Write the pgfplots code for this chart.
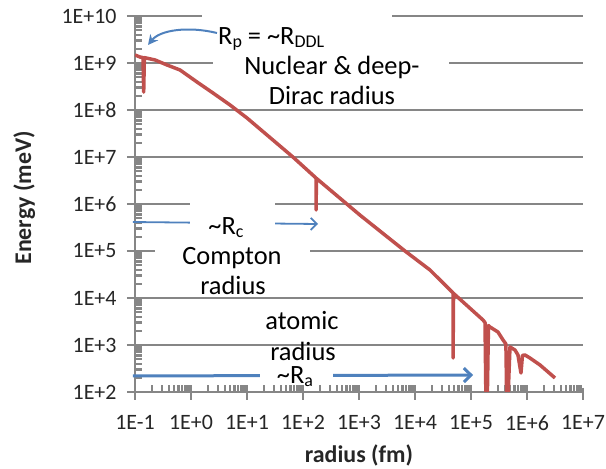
\documentclass[border=0pt]{standalone}
\usepackage{fontspec}
\setmainfont{Carlito}
\usepackage{pgfplots}
\pgfplotsset{compat=1.18}
\usetikzlibrary{arrows.meta}
\definecolor{gridgray}{RGB}{134,134,134}
\definecolor{exred}{RGB}{192,80,77}
\definecolor{exblue}{RGB}{79,129,189}
\newcommand\sub[1]{\raisebox{-0.1em}{\fontsize{18}{18}\selectfont #1}}
\tikzset{ann/.style={font=\fontsize{26.5}{30}\selectfont, inner sep=0pt, anchor=base, text=black}}
\begin{document}
\begin{tikzpicture}
\begin{axis}[
  name=ax,
  scale only axis, width=448bp, height=376bp,
  xmode=log, ymode=log,
  xmin=0.1, xmax=1e7, ymin=1e2, ymax=1e10,
  clip mode=individual,
  axis x line*=bottom, axis y line*=left,
  axis line style={gridgray, line width=1.8bp},
  xtick={1e-1,1e0,1e1,1e2,1e3,1e4,1e5,1e6,1e7},
  xticklabels={1E-1,1E+0,1E+1,1E+2,1E+3,1E+4,1E+5,1E+6,1E+7},
  ytick={1e2,1e4,1e5,1e6,1e7,1e9,1e10},
  yticklabels={1E+2,1E+4,1E+5,1E+6,1E+7,1E+9,1E+10},
  minor ytick={2e2,3e2,4e2,5e2,6e2,7e2,8e2,9e2,
               2e3,3e3,4e3,5e3,6e3,7e3,8e3,9e3,
               2e4,3e4,4e4,5e4,6e4,7e4,8e4,9e4,
               2e5,3e5,4e5,5e5,6e5,7e5,8e5,9e5,
               2e6,3e6,4e6,5e6,6e6,7e6,8e6,9e6,
               2e7,3e7,4e7,5e7,6e7,7e7,8e7,9e7,
               2e8,3e8,4e8,5e8,6e8,7e8,8e8,9e8,
               2e9,3e9,4e9,5e9,6e9,7e9,8e9,9e9},
  extra y ticks={1e3,1e8},
  extra y tick labels={1E+3,1E+8},
  extra y tick style={major grid style={gridgray, line width=1.1bp}},
  ymajorgrids,
  major grid style={gridgray, line width=2bp},
  tick align=outside,
  tick style={gridgray, line width=2bp},
  minor tick style={gridgray, line width=2.2bp},
  major tick length=8bp, minor tick length=-7bp,
  tick label style={font=\fontsize{22}{26}\selectfont, text=black!85},
  xticklabel style={yshift=-12bp},
  yticklabel style={xshift=-7bp},
  xlabel={radius (fm)},
  ylabel={Energy (meV)},
  label style={font=\fontsize{24}{28}\selectfont\bfseries, text=black!85},
  xlabel style={at={(axis description cs:0.5,-0.1862)}, anchor=base},
  ylabel style={at={(axis description cs:-0.2321,0.516)}, anchor=base},
]
% major tick marks
\draw[gridgray, line width=2bp]
  ([yshift=4bp]rel axis cs:0,0) -- ([yshift=-8bp]rel axis cs:0,0)
  ([yshift=4bp]rel axis cs:0.125,0) -- ([yshift=-8bp]rel axis cs:0.125,0)
  ([yshift=4bp]rel axis cs:0.25,0) -- ([yshift=-8bp]rel axis cs:0.25,0)
  ([yshift=4bp]rel axis cs:0.375,0) -- ([yshift=-8bp]rel axis cs:0.375,0)
  ([yshift=4bp]rel axis cs:0.5,0) -- ([yshift=-8bp]rel axis cs:0.5,0)
  ([yshift=4bp]rel axis cs:0.625,0) -- ([yshift=-8bp]rel axis cs:0.625,0)
  ([yshift=4bp]rel axis cs:0.75,0) -- ([yshift=-8bp]rel axis cs:0.75,0)
  ([yshift=4bp]rel axis cs:0.875,0) -- ([yshift=-8bp]rel axis cs:0.875,0)
  ([yshift=4bp]rel axis cs:1,0) -- ([yshift=-8bp]rel axis cs:1,0)
  ([xshift=-8bp]rel axis cs:0,0.125) -- ([xshift=4bp]rel axis cs:0,0.125)
  ([xshift=-8bp]rel axis cs:0,0.25) -- ([xshift=4bp]rel axis cs:0,0.25)
  ([xshift=-8bp]rel axis cs:0,0.375) -- ([xshift=4bp]rel axis cs:0,0.375)
  ([xshift=-8bp]rel axis cs:0,0.5) -- ([xshift=4bp]rel axis cs:0,0.5)
  ([xshift=-8bp]rel axis cs:0,0.625) -- ([xshift=4bp]rel axis cs:0,0.625)
  ([xshift=-8bp]rel axis cs:0,0.75) -- ([xshift=4bp]rel axis cs:0,0.75)
  ([xshift=-8bp]rel axis cs:0,0.875) -- ([xshift=4bp]rel axis cs:0,0.875)
  ([xshift=-8bp]rel axis cs:0,1) -- ([xshift=4bp]rel axis cs:0,1);
% arrows
\draw[exblue, line width=2bp, -{Stealth[length=10bp,width=10bp]}]
  (rel axis cs:0.1830,0.9548) .. controls (rel axis cs:0.1183,0.9734) and (rel axis cs:0.0558,0.9628) .. (rel axis cs:0.0290,0.9229);
\draw[exblue, line width=1.8bp, -{Straight Barb[length=6bp,width=12bp]}]
  (rel axis cs:-0.0045,0.4521) -- (rel axis cs:0.4085,0.4468);
\draw[exblue, line width=3bp, -{Straight Barb[length=7bp,width=14bp]}]
  (rel axis cs:-0.0045,0.0426) -- (rel axis cs:0.7545,0.0452);
% white text boxes
\fill[white] (rel axis cs:0.1496,0.9787) rectangle (rel axis cs:0.5737,1.02);
\fill[white] (rel axis cs:0.1741,0.7713) rectangle (rel axis cs:0.7009,0.9149);
\fill[white] (rel axis cs:0.1228,0.3963) rectangle (rel axis cs:0.3125,0.5106);
\fill[white] (rel axis cs:0.0446,0.2553) rectangle (rel axis cs:0.3906,0.3936);
\fill[white] (rel axis cs:0.2790,0.0230) rectangle (rel axis cs:0.4420,0.0691);
% texts
\node[ann, anchor=base west] at (rel axis cs:0.1853,0.9229) {R\sub{p} = \textasciitilde R\sub{DDL}};
\node[ann] at (rel axis cs:0.4397,0.8431) {Nuclear \& deep-};
\node[ann] at (rel axis cs:0.4397,0.7633) {Dirac radius};
\node[ann] at (rel axis cs:0.2031,0.4176) {\textasciitilde R\sub{c}};
\node[ann] at (rel axis cs:0.2165,0.3378) {Compton};
\node[ann] at (rel axis cs:0.2188,0.2580) {radius};
\node[ann] at (rel axis cs:0.3728,0.1649) {atomic};
\node[ann] at (rel axis cs:0.3750,0.0851) {radius};
\node[ann] at (rel axis cs:0.3571,0.0213) {\textasciitilde R\sub{a}};
% curve
\addplot[exred, line width=3.5bp, line join=round, no marks] coordinates {
(0.1,1.48e9) (0.123,1.34e9) (0.139,1.3e9) (0.143,2.4e8) (0.147,1.3e9)
(0.157,1.28e9) (0.228,1.16e9) (0.373,9.07e8) (0.637,7.1e8) (1.28,3.94e8)
(2.47,2.3e8) (4.97,1.28e8) (10,6.76e7) (66,1.0e7) (171,3.57e6)
(171,7.45e5) (174,3.5e6) (1042,5.8e5) (6620,1.0e5) (18500,3.95e4)
(47800,1.28e4) (47800,528) (48800,1.25e4) (1.64e5,3400) (1.78e5,3000)
(1.85e5,60) (1.95e5,60) (2.05e5,2600) (2.18e5,2420) (3.03e5,1890)
(3.73e5,1280) (4.2e5,1050) (4.35e5,60) (4.55e5,60) (4.97e5,907)
(6.1e5,783) (6.9e5,613) (7.8e5,254) (8.3e5,600) (9.2e5,613)
(1.13e6,528) (1.71e6,375) (3.16e6,199)
};
\end{axis}
\pgfresetboundingbox
\path ([shift={(-135bp,-77bp)}]ax.south west) rectangle ([shift={(471bp,392bp)}]ax.south west);
\end{tikzpicture}
\end{document}
